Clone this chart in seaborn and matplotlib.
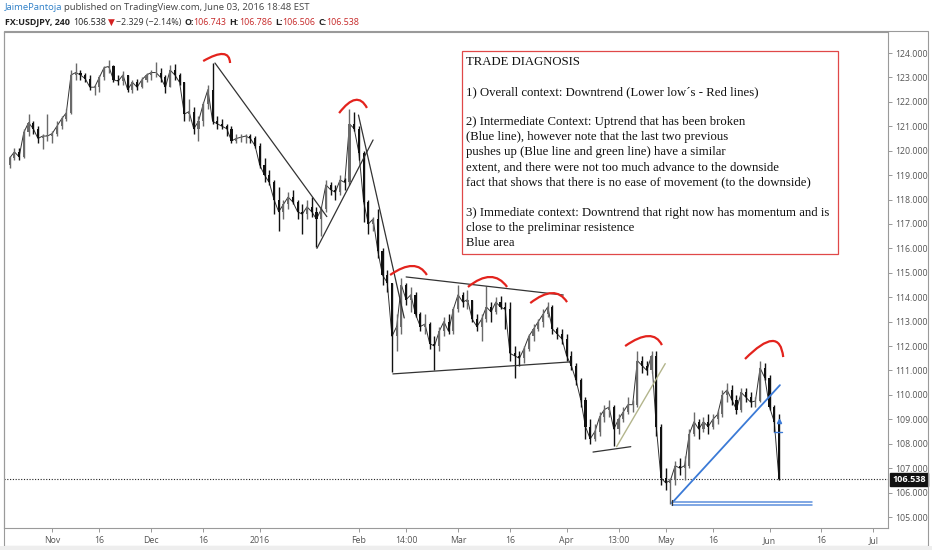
import numpy as np
import pandas as pd
import seaborn as sns
import matplotlib.pyplot as plt
from matplotlib.path import Path
from matplotlib.patches import PathPatch, Rectangle

sns.set_theme(style="white")
plt.rcParams['font.family'] = ['Open Sans', 'DejaVu Sans']

# ---- daily USDJPY bars (business days from 2015-10-20) ----
first_open = 119.40
highs = [
    119.80, 120.10, 120.10, 120.90, 121.50, 121.20, 121.00, 120.70, 121.50,
    120.80, 121.20, 121.40, 121.70, 123.30,
    123.60, 123.30, 123.20, 123.10, 122.70,
    123.10, 123.45, 123.70, 123.50, 123.10,
    123.25, 123.10, 122.90, 122.95, 123.00,
    123.20, 123.30, 123.65, 123.40, 123.10,
    123.50, 123.55, 123.20, 122.80, 122.10,
    121.80, 121.40, 122.00, 122.70, 123.60,
    121.40, 121.30, 121.10, 121.00, 120.70,
    120.70, 120.70, 120.70, 120.60, 120.30,
    119.70, 119.20, 118.80, 118.50, 118.00,
    118.30, 118.40, 118.00, 117.80, 118.00,
    118.10, 117.70, 117.70, 118.80, 118.70,
    118.60, 119.00, 118.90, 121.70, 121.60,
    121.00, 120.00, 118.00, 117.30, 117.60,
    116.00, 115.10, 114.60, 113.30, 114.80,
    114.60, 114.40, 114.20, 113.40, 113.30,
    113.00, 112.40, 112.80, 113.20, 113.30,
    113.60, 114.50, 114.20, 114.30, 113.90,
    113.30, 113.30, 114.45, 113.80, 114.00,
    114.05, 113.80, 113.80, 112.00, 111.80,
    112.00, 112.50, 112.90, 113.10, 113.50,
    113.80, 113.70, 112.80, 112.70, 112.50,
    111.80, 111.30, 110.70, 109.90, 109.00,
    108.80, 109.30, 109.60, 109.80, 109.60,
    109.20, 109.50, 109.90, 109.80, 111.80,
    111.60, 111.40, 111.80, 111.80, 108.80,
    107.00, 106.60, 107.30, 107.40, 107.50,
    108.60, 109.30, 109.00, 109.10, 109.20,
    109.20, 109.40, 110.20, 110.50, 110.40,
    110.00, 110.30, 110.30, 110.10, 109.90,
    111.40, 111.30, 110.80, 109.60, 109.20,
]
lows = [
    119.30, 119.60, 119.60, 119.70, 120.60, 120.70, 120.30, 120.05, 120.40,
    120.30, 120.60, 120.90, 121.20, 121.50,
    122.90, 122.90, 122.80, 122.50, 122.30,
    122.40, 122.90, 123.20, 122.80, 122.70,
    122.70, 122.40, 122.35, 122.50, 122.55,
    122.80, 122.90, 123.00, 122.80, 122.35,
    122.60, 122.90, 122.70, 121.20, 121.20,
    120.70, 120.40, 121.00, 121.70, 121.10,
    120.90, 120.90, 120.60, 120.30, 120.30,
    120.35, 120.30, 120.30, 120.10, 119.30,
    118.70, 118.60, 117.40, 116.70, 117.20,
    117.60, 117.80, 117.20, 116.60, 117.20,
    117.30, 116.05, 116.50, 117.50, 118.20,
    118.00, 118.20, 118.40, 118.60, 120.80,
    119.60, 117.10, 116.60, 116.70, 115.60,
    114.50, 114.20, 110.95, 111.80, 112.50,
    113.70, 113.40, 113.20, 112.60, 112.50,
    111.90, 111.00, 111.80, 112.40, 112.50,
    112.50, 113.40, 113.60, 113.50, 113.00,
    112.60, 112.20, 113.00, 113.00, 113.30,
    113.50, 112.70, 111.40, 110.70, 111.20,
    111.30, 111.80, 112.20, 112.60, 112.80,
    113.20, 112.50, 112.30, 112.10, 111.40,
    111.00, 110.40, 109.50, 108.20, 108.00,
    108.10, 108.30, 108.90, 109.10, 107.90,
    108.40, 108.90, 109.20, 109.30, 109.50,
    110.90, 110.80, 110.90, 108.30, 106.30,
    106.10, 105.55, 106.30, 106.70, 106.50,
    107.00, 108.30, 108.20, 108.50, 108.40,
    108.60, 108.80, 109.10, 109.70, 109.60,
    109.20, 109.30, 109.70, 109.50, 109.50,
    109.70, 110.60, 109.40, 108.50, 106.50,
]
closes = [
    119.70, 119.95, 119.75, 120.75, 121.15, 120.90, 120.50, 120.60, 120.60,
    120.70, 121.00, 121.30, 121.55, 123.10,
    123.20, 123.10, 122.95, 122.60, 122.60,
    123.00, 123.40, 123.45, 122.90, 122.85,
    123.10, 122.50, 122.80, 122.60, 122.90,
    123.10, 123.20, 123.20, 123.00, 122.60,
    123.30, 123.10, 122.80, 121.50, 121.60,
    120.90, 121.20, 121.90, 122.50, 121.20,
    121.10, 121.00, 120.90, 120.40, 120.50,
    120.55, 120.60, 120.50, 120.20, 119.40,
    119.00, 118.70, 118.00, 117.50, 117.80,
    118.10, 117.90, 117.50, 117.40, 117.70,
    117.50, 117.20, 117.60, 118.60, 118.40,
    118.30, 118.80, 118.70, 121.10, 120.90,
    119.90, 117.90, 117.00, 117.20, 115.90,
    114.90, 114.60, 112.40, 112.80, 114.50,
    113.90, 114.10, 113.30, 112.80, 112.90,
    112.10, 112.00, 112.60, 113.00, 112.60,
    113.50, 114.10, 113.80, 113.90, 113.10,
    112.80, 113.10, 113.60, 113.40, 113.80,
    113.60, 113.50, 111.70, 111.60, 111.50,
    111.90, 112.40, 112.70, 113.00, 113.30,
    113.60, 112.70, 112.50, 112.30, 111.60,
    111.20, 110.60, 109.80, 108.70, 108.20,
    108.50, 109.10, 109.40, 109.50, 108.60,
    109.00, 109.30, 109.60, 109.60, 111.40,
    111.20, 111.00, 111.60, 108.70, 106.60,
    106.40, 106.50, 107.10, 107.00, 107.10,
    108.40, 108.90, 108.60, 108.90, 108.70,
    109.00, 109.20, 110.00, 110.20, 109.80,
    109.40, 110.10, 109.90, 109.70, 109.75,
    111.10, 110.70, 109.50, 108.90, 106.538,
]
last_price = 106.538

# x-axis labels (date, label)
tick_dates = ["2015-11-02", "2015-11-16", "2015-12-01", "2015-12-16", "2016-01-01",
              "2016-02-01", "2016-02-15", "2016-03-01", "2016-03-16", "2016-04-01",
              "2016-04-18", "2016-05-02", "2016-05-16", "2016-06-01", "2016-06-16",
              "2016-07-01"]
tick_labels = ["Nov", "16", "Dec", "16", "2016", "Feb", "14:00", "Mar", "16", "Apr",
               "13:00", "May", "16", "Jun", "16", "Jul"]
price_ticks = list(range(105, 125))

# hand drawn lines (x in trading days from 2015-11-02, y in price)
trend_x0 = [34.5, 56.1, 64.9, 75.0, 72.2, 114.6]
trend_y0 = [123.59, 116.00, 121.46, 114.83, 110.86, 107.66]
trend_x1 = [58.2, 68.0, 74.6, 108.3, 109.7, 122.6]
trend_y1 = [117.30, 120.44, 113.15, 114.09, 111.35, 107.88]
green_x = [119.6, 129.9]
green_y = [107.88, 111.28]
blue_x = [131.3, 154.2]
blue_y = [105.57, 110.40]
support_x = [131.3, 161.0]
support_y = [105.63, 105.51]
arc_left_x = [32.0, 60.8, 71.6, 88.1, 101.3, 121.4, 146.8]
arc_left_y = [123.67, 121.54, 114.91, 114.42, 113.76, 112.00, 111.47]
arc_top_x = [36.2, 64.2, 76.3, 92.8, 105.9, 126.3, 152.5]
arc_top_y = [123.96, 122.08, 115.28, 114.83, 114.17, 112.41, 112.21]
arc_right_x = [37.7, 66.7, 79.4, 96.4, 109.1, 129.2, 154.9]
arc_right_y = [123.59, 121.75, 114.91, 114.42, 113.80, 112.04, 111.55]

note_lines = [
    "TRADE DIAGNOSIS",
    "",
    "1) Overall context: Downtrend (Lower low\u00b4s - Red lines)",
    "",
    "2) Intermediate Context: Uptrend that has been broken",
    "(Blue line), however note that the last two previous",
    "pushes up (Blue line and green line) have a similar",
    "extent, and there were not too much advance to the downside",
    "fact that shows that there is no ease of movement (to the downside)",
    "",
    "3) Immediate context: Downtrend that right now has momentum and is",
    "close to the preliminar resistence",
    "Blue area",
]

# ---- build frame ----
days = pd.bdate_range("2015-10-20", "2016-07-08")
offset = days.get_loc(pd.Timestamp("2015-11-02"))
df = pd.DataFrame({"high": highs, "low": lows, "close": closes})
df["open"] = [first_open] + closes[:-1]
df["x"] = np.arange(len(df)) - offset
df["up"] = df["close"] >= df["open"]

W, H = 932, 550
fig = plt.figure(figsize=(W / 100, H / 100), dpi=100)
fig.patch.set_facecolor("white")
ax = fig.add_axes([4 / W, 1 - 528 / H, 884 / W, 496 / H])
ax.set_facecolor("white")

# thin close-to-close trace underneath, then the bars
sns.lineplot(data=df, x="x", y="close", ax=ax, color="#333333", lw=0.7, zorder=2)
colors = np.where(df["up"], "#6a6a6a", "#111111")
ax.vlines(df["x"], df["low"], df["high"], colors=colors, lw=1.0, zorder=3)
body_lo = np.minimum(df["open"], df["close"])
body_h = np.maximum(np.abs(df["close"] - df["open"]), 0.03)
ax.bar(df["x"], body_h, bottom=body_lo, width=0.45, color=colors, lw=0, zorder=3)

# trend lines
for x0, y0, x1, y1 in zip(trend_x0, trend_y0, trend_x1, trend_y1):
    sns.lineplot(x=[x0, x1], y=[y0, y1], ax=ax, color="#333333", lw=0.9, zorder=4)
sns.lineplot(x=green_x, y=green_y, ax=ax, color="#b3b58c", lw=1.0, zorder=4)
sns.lineplot(x=blue_x, y=blue_y, ax=ax, color="#3b7ad6", lw=1.3, zorder=4)
for yy in support_y:
    ax.plot(support_x, [yy, yy], color="#5d90dc", lw=1.1, zorder=4)
ax.plot([support_x[0], support_x[0]], [support_y[1] - 0.03, support_y[0] + 0.05],
        color="#333333", lw=0.9, zorder=4)
ax.plot([153.0, 154.6], [108.48, 108.48], color="#3b7ad6", lw=1.0, zorder=4)
ax.plot([153.9], [108.95], marker="^", ms=3, color="#3b7ad6", zorder=4)

# red arcs over the highs
for lx, ly, tx, ty, rx, ry in zip(arc_left_x, arc_left_y, arc_top_x, arc_top_y,
                                  arc_right_x, arc_right_y):
    cx = 2 * tx - (lx + rx) / 2
    cy = 2 * ty - (ly + ry) / 2
    path = Path([(lx, ly), (cx, cy), (rx, ry)], [Path.MOVETO, Path.CURVE3, Path.CURVE3])
    ax.add_patch(PathPatch(path, fc="none", ec="#e3231d", lw=1.6, zorder=5))

# last price line + label
ax.axhline(last_price, color="#222222", lw=0.8, ls=(0, (1, 1.5)), zorder=2)
ax.annotate(f"{last_price:.3f}", xy=(1.0, last_price), xycoords=("axes fraction", "data"),
            xytext=(3, 0), textcoords="offset points", va="center", ha="left",
            fontsize=6.5, color="white", fontweight="bold",
            bbox=dict(boxstyle="square,pad=0.25", fc="#111111", ec="#111111"))

ax.set_xlim(-10.2, 177.1)
ax.set_ylim(104.55, 124.86)

tick_pos = [days.get_loc(pd.Timestamp(d)) - offset for d in tick_dates]
ax.set_xticks(tick_pos)
ax.set_xticklabels(tick_labels)
ax.set_yticks(price_ticks)
ax.set_yticklabels([f"{p:.3f}" for p in price_ticks])
ax.yaxis.tick_right()
ax.tick_params(axis="both", which="both", length=3, width=0.6, color="#888888",
               labelsize=6.3, labelcolor="#555555", direction="out", pad=2)
ax.tick_params(axis="x", bottom=True, pad=3)
ax.tick_params(axis="y", right=True, left=False)
for s in ax.spines.values():
    s.set_color("#9a9a9a")
    s.set_linewidth(0.8)
ax.set_xlabel("")
ax.set_ylabel("")
ax.grid(False)

# outer frame and bottom strip
fig.patches.append(Rectangle((4 / W, 1 - 546 / H), 924 / W, 515 / H, transform=fig.transFigure,
                             fill=False, ec="#9a9a9a", lw=0.8))
fig.patches.append(Rectangle((0, 0), 1, 4 / H, transform=fig.transFigure,
                             fc="#eeeeee", ec="none"))

# note box
fig.patches.append(Rectangle((462 / W, 1 - 254 / H), 376 / W, 203 / H, transform=fig.transFigure,
                             fc="white", ec="#e04848", lw=0.9, zorder=6))
for i, line in enumerate(note_lines):
    fig.text(466 / W, 1 - (62 + i * 15.08) / H, line, family=["Liberation Serif"],
             fontsize=9.2, color="#111111", va="center", ha="left", zorder=7)

# header, laid out piece by piece
renderer = fig.canvas.get_renderer()


def header_line(y_px, pieces, size):
    x_px = 5
    for txt, color, weight, gap in pieces:
        t = fig.text(x_px / W, 1 - y_px / H, txt, color=color, fontweight=weight,
                     fontsize=size, va="center", ha="left")
        x_px += t.get_window_extent(renderer=renderer).width + gap


header_line(7.5, [
    ("JaimePantoja", "#2f80c8", "normal", 2),
    ("published on TradingView.com, June 03, 2016 18:48 EST", "#444444", "normal", 0),
], 6.8)
header_line(22.5, [
    ("FX:USDJPY, 240", "#222222", "bold", 3),
    ("106.538", "#222222", "normal", 2),
    ("\u25bc", "#d42020", "normal", 1),
    ("\u22122.329 (\u22122.14%)", "#333333", "normal", 3),
    ("O:", "#222222", "bold", 0), ("106.743", "#c62828", "normal", 3),
    ("H:", "#222222", "bold", 0), ("106.786", "#c62828", "normal", 3),
    ("L:", "#222222", "bold", 0), ("106.506", "#c62828", "normal", 3),
    ("C:", "#222222", "bold", 0), ("106.538", "#c62828", "normal", 0),
], 6.4)

fig.savefig("out.png", dpi=100)
